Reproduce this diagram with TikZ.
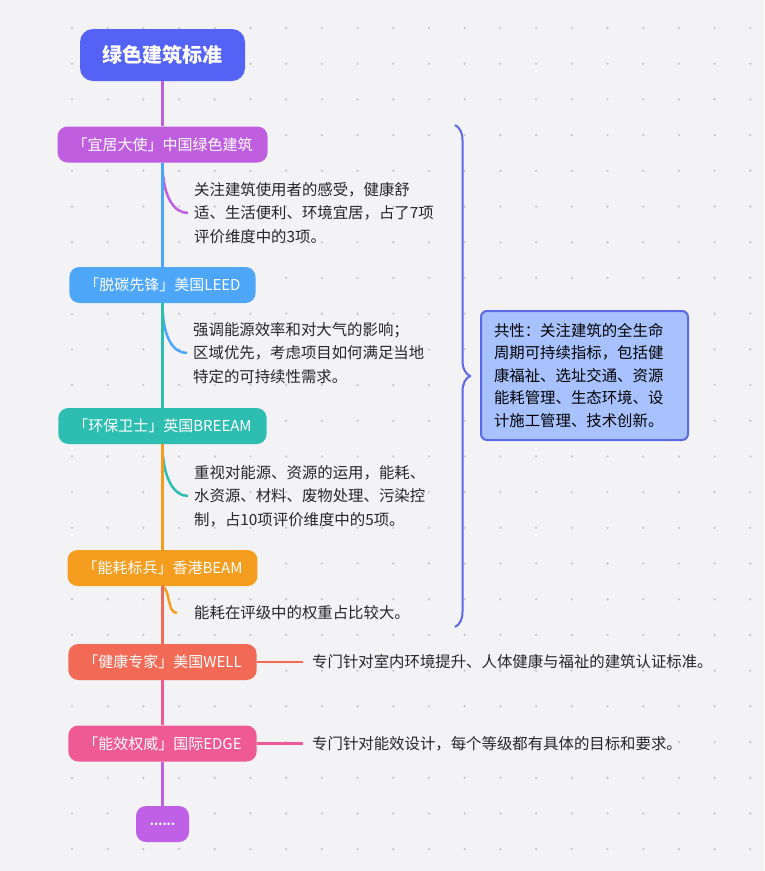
\documentclass[tikz,border=0pt]{standalone}
\usepackage{fontspec}
\setmainfont{Noto Sans CJK SC}
\usetikzlibrary{decorations.pathreplacing}
\definecolor{bgc}{HTML}{F3F3F6}
\definecolor{dotc}{HTML}{C9C9CE}
\definecolor{cR}{HTML}{5462F6}
\definecolor{cA}{HTML}{BF5FE0}
\definecolor{cB}{HTML}{4DA6F8}
\definecolor{cC}{HTML}{2EBDB1}
\definecolor{cD}{HTML}{F59D1E}
\definecolor{cE}{HTML}{F26A55}
\definecolor{cF}{HTML}{EF5A95}
\definecolor{cG}{HTML}{C060E6}
\definecolor{brc}{HTML}{5B68E8}
\definecolor{sumc}{HTML}{A8C2FF}
\definecolor{txtc}{HTML}{262626}
\newcommand\descfont{\fontsize{15.4}{23.5}\selectfont}
\begin{document}
\begin{tikzpicture}
  [x=1pt,y=-1pt,
   item/.style={rounded corners=10pt,minimum height=36pt,inner xsep=15pt,inner ysep=0pt,text=white,font=\fontsize{15}{18}\selectfont},
   desc/.style={anchor=west,align=left,inner xsep=6pt,inner ysep=0pt,text=txtc,font=\descfont},
   spine/.style={line width=2.5pt}]
  \fill[bgc] (0,0) rectangle (764,871);
  \useasboundingbox (0,0) rectangle (764,871);
  \foreach \i in {0,...,19}
    \foreach \j in {0,...,23}
      \fill[dotc] (72+35.7*\i,28+35.7*\j) circle (1.3pt);

  \node[rounded corners=13pt,fill=cR,text=white,minimum width=165pt,minimum height=52pt,font=\fontsize{20}{24}\selectfont\bfseries] (root) at (162.5,55) {绿色建筑标准};
  \node[item,fill=cA] (n1) at (162.5,144.5) {「宜居大使」中国绿色建筑};
  \node[item,fill=cB] (n2) at (162.5,285) {「脱碳先锋」美国LEED};
  \node[item,fill=cC] (n3) at (162.5,426) {「环保卫士」英国BREEAM};
  \node[item,fill=cD] (n4) at (162.5,568) {「能耗标兵」香港BEAM};
  \node[item,fill=cE] (n5) at (162.5,662) {「健康专家」美国WELL};
  \node[item,fill=cF] (n6) at (162.5,743.5) {「能效权威」国际EDGE};
  \node[item,fill=cG,minimum width=53pt,inner xsep=0pt,font=\fontsize{12}{12}\selectfont\bfseries] (n7) at (162.5,824) {......};

  \node[desc] (d1) at (188,213) {关注建筑使用者的感受，健康舒\\适、生活便利、环境宜居，占了7项\\评价维度中的3项。};
  \node[desc] (d2) at (187,353) {强调能源效率和对大气的影响；\\区域优先，考虑项目如何满足当地\\特定的可持续性需求。};
  \node[desc] (d3) at (188,496) {重视对能源、资源的运用，能耗、\\水资源、材料、废物处理、污染控\\制，占10项评价维度中的5项。};
  \node[desc] (d4) at (188,613) {能耗在评级中的权重占比较大。};
  \node[desc,inner xsep=9pt] (d5) at (303,662) {专门针对室内环境提升、人体健康与福祉的建筑认证标准。};
  \node[desc,inner xsep=9pt] (d6) at (303,743.5) {专门针对能效设计，每个等级都有具体的目标和要求。};

  \node[draw=brc,line width=2pt,fill=sumc,rounded corners=6pt,align=left,text width=181pt,inner xsep=13pt,minimum height=129pt,text=black,font=\fontsize{15.4}{22.5}\selectfont] (sum) at (584.5,375.5) {共性：关注建筑的全生命\\周期可持续指标，包括健\\康福祉、选址交通、资源\\能耗管理、生态环境、设\\计施工管理、技术创新。};
  \coordinate (bt) at (455,125);
  \coordinate (bb) at (455,627);
  \draw[brc,line width=2pt,decorate,decoration={brace,amplitude=15pt}] (bt) -- (bb);

  % branches
  \foreach \n/\d/\c in {n1/d1/cA,n2/d2/cB,n3/d3/cC}
    \draw[\c,spine] (\n.south) .. controls +(0,34) and +(-14,0) .. (\d.west);
  \draw[cD,spine] (n4.south) .. controls +(8,4) and +(-10,0) .. ([xshift=-11pt]d4.west);
  \draw[cE,spine] (n5.east) -- (d5.west);
  \draw[cF,spine] (n6.east) -- (d6.west);

  \foreach \from/\to/\c in {root/n1/cA,n1/n2/cB,n2/n3/cC,n3/n4/cD,n4/n5/cE,n5/n6/cF,n6/n7/cG}
    \draw[\c,spine] (\from.south) -- (\to.north);

\end{tikzpicture}
\end{document}
